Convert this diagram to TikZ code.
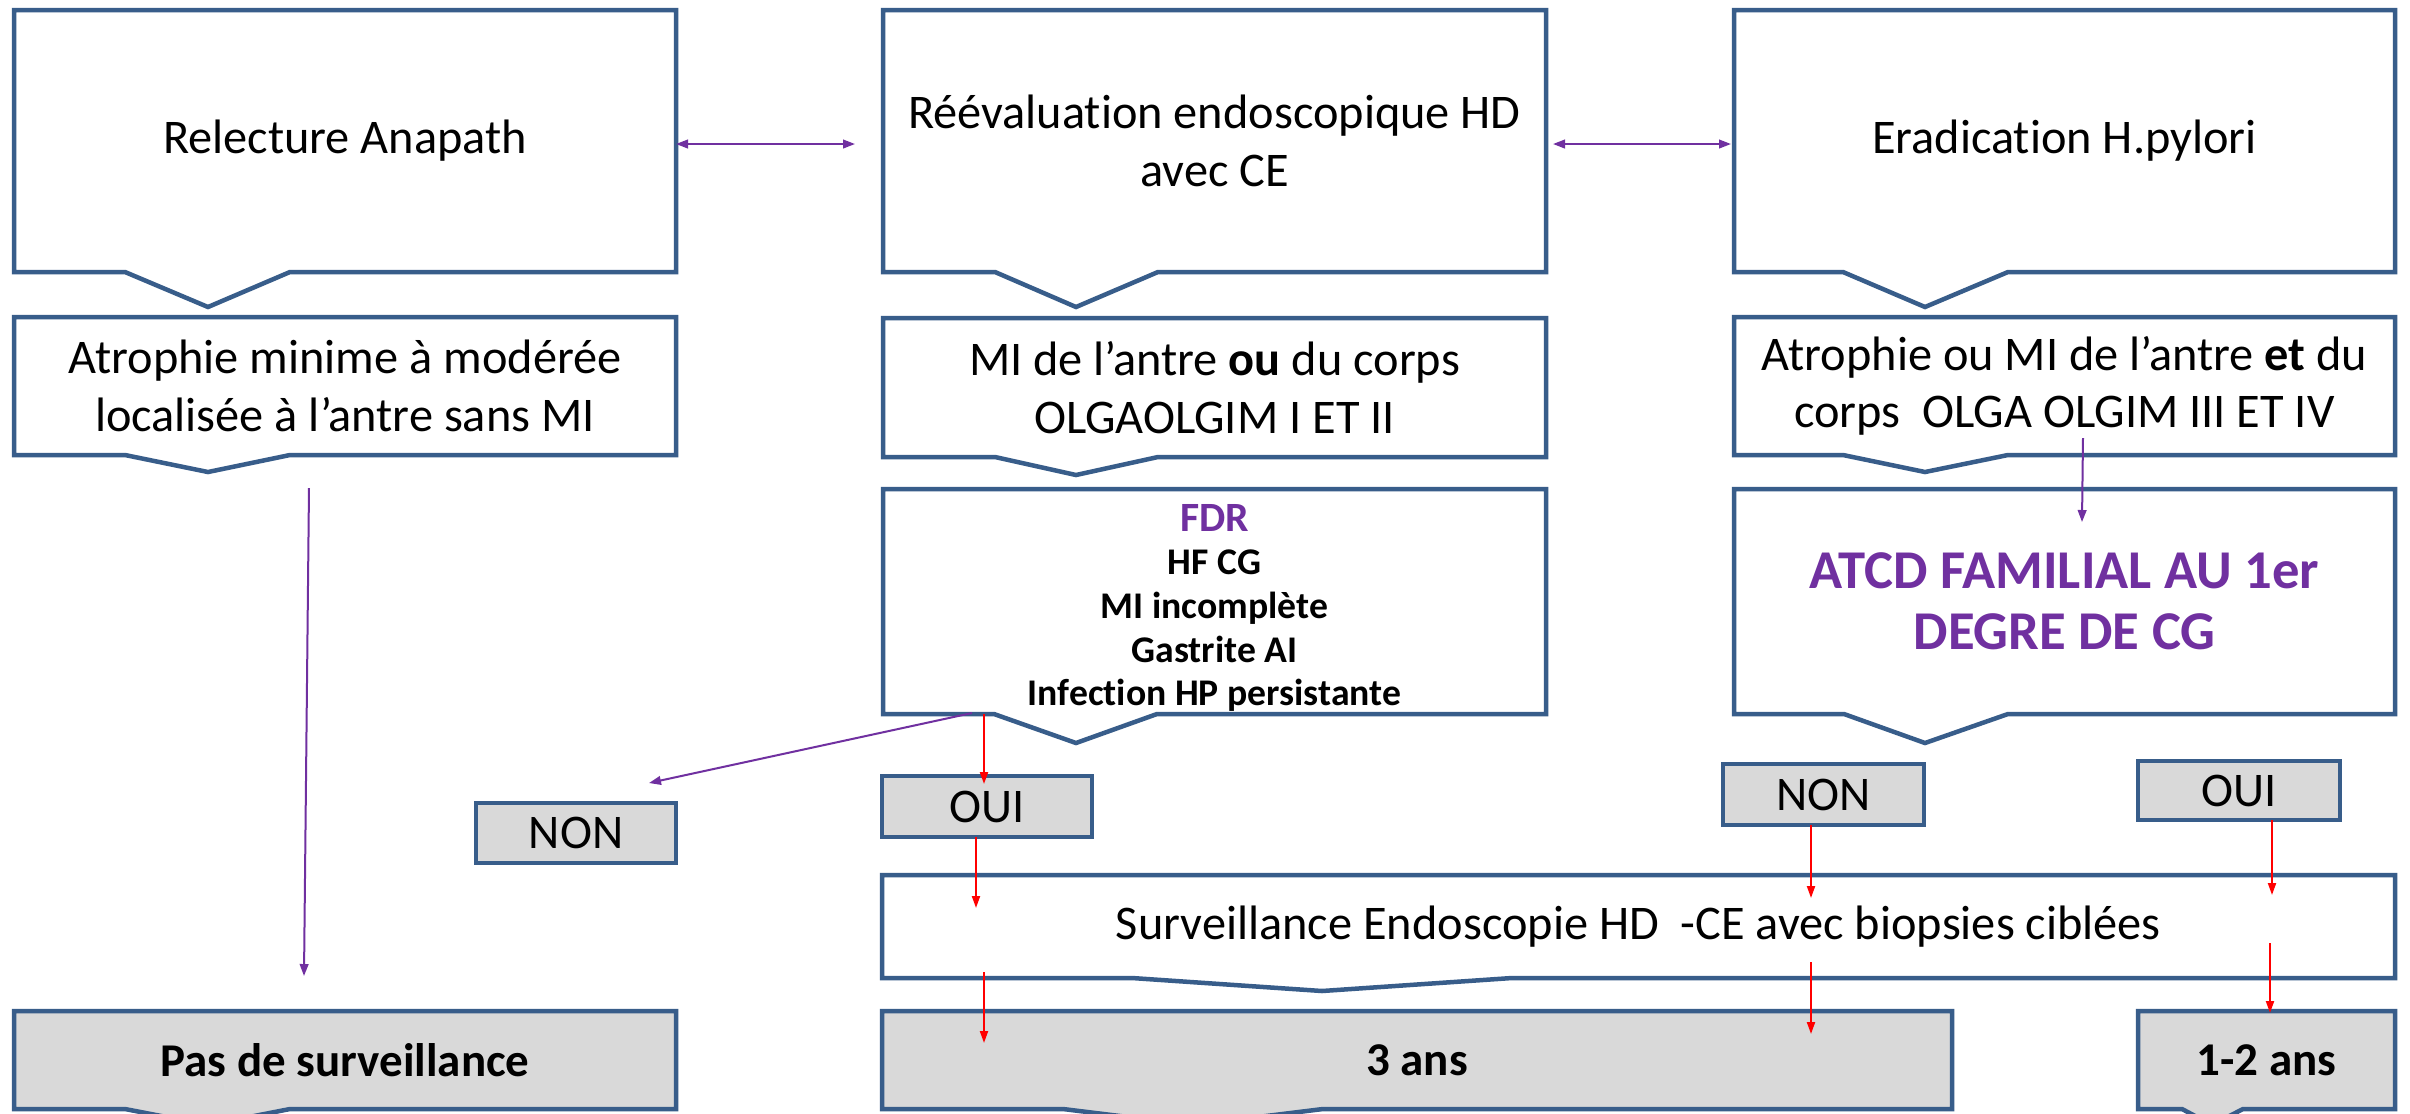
\documentclass[tikz,border=0pt]{standalone}
\usepackage{fontspec}
\setmainfont{Carlito}[Ligatures={TeX,NoCommon}]
\usetikzlibrary{arrows.meta,backgrounds,calc}
\definecolor{boxblue}{HTML}{385D8A}
\definecolor{vio}{HTML}{7030A0}
\definecolor{grayfill}{HTML}{D9D9D9}
\definecolor{redar}{HTML}{FF0000}
\newcommand\chevshape[6]{%
  \path[shapeline,fill=#6] (#1.north west) -- (#1.north east) -- (#1.south east)
    -- (#1.south -| #4,0) -- (#3,#5) -- (#1.south -| #2,0) -- (#1.south west) -- cycle;}
\newcommand\plainshape[2]{%
  \path[shapeline,fill=#2] (#1.north west) rectangle (#1.south east);}
\tikzset{
  boxnode/.style={inner sep=0pt, outer sep=0pt, anchor=north west, align=center,
    font=\fontsize{14.5}{17.3}\selectfont},
  boldbox/.style={boxnode, font=\fontsize{14.1}{17.1}\selectfont\bfseries},
  wh/.style 2 args={minimum width=#1*0.3pt, minimum height=#2*0.3pt},
  shapeline/.style={draw=boxblue, line width=1.35pt, line join=miter},
  vtip/.tip={Triangle[length=3.6pt,width=2.6pt]},
  rtip/.tip={Triangle[length=3.6pt,width=2.4pt]},
  varrow/.style={draw=vio, line width=0.6pt, -vtip, vio},
  vboth/.style={draw=vio, line width=0.6pt, vtip-vtip, vio},
  rarrow/.style={draw=redar, line width=0.6pt, -rtip, redar},
}
\begin{document}
\begin{tikzpicture}[x=0.3pt,y=-0.3pt]
\useasboundingbox (0,0) rectangle (2410,1113);
% nodes
\node[boxnode, wh={662}{262}] (A) at (14,10) {Relecture Anapath};
\node[boxnode, wh={662}{138}] (B) at (14,317) {Atrophie minime à modérée\\localisée à l’antre sans MI};
\node[boxnode, wh={663}{262}] (C) at (883,10) {Réévaluation endoscopique HD\\avec CE};
\node[boxnode, wh={663}{139}] (D) at (883,318) {MI de l’antre \textbf{ou} du corps\\OLGAOLGIM I ET II};
\node[boxnode, wh={661}{262}] (E) at (1734,10) {Eradication H.pylori};
\node[boxnode, wh={661}{138}] (F) at (1734,317) {Atrophie ou MI de l’antre \textbf{et} du\\corps\ \ OLGA OLGIM III ET IV};
\node[boxnode, wh={663}{225}, font=\fontsize{11.3}{13.1}\selectfont\bfseries] (G) at (883,489)
  {\rule{0pt}{12pt}{\fontsize{12.5}{13.1}\selectfont\color{vio}FDR}\\HF CG\\MI incomplète\\Gastrite AI\\Infection HP persistante};
\node[boxnode, wh={661}{225}, font=\fontsize{16.4}{18.4}\selectfont\bfseries, text=vio] (H) at (1734,489)
  {ATCD FAMILIAL AU 1er\\DEGRE DE CG};
\node[boxnode, wh={200}{60}] (non1) at (476,803) {NON};
\node[boxnode, wh={210}{61}] (oui1) at (882,776) {OUI};
\node[boxnode, wh={201}{61}] (non2) at (1723,764) {NON};
\node[boxnode, wh={202}{59}] (oui2) at (2138,761) {OUI};
\node[boxnode, wh={1513}{103}] (S) at (882,875) {Surveillance Endoscopie HD\ \ -CE avec biopsies ciblées};
\node[boldbox, wh={662}{98}] (P) at (14,1011) {Pas de surveillance};
\node[boldbox, wh={1070}{98}] (T) at (882,1011) {3 ans};
\node[boldbox, wh={257}{98}] (U) at (2138,1011) {1-2 ans};
% shapes
\begin{scope}[on background layer]
\fill[white] (0,0) rectangle (2410,1113);
\chevshape{A}{125}{208}{290}{307}{white}
\chevshape{B}{125}{208}{290}{472}{white}
\chevshape{C}{995}{1076}{1158}{307}{white}
\chevshape{D}{995}{1076}{1158}{475}{white}
\chevshape{E}{1843}{1925}{2008}{307}{white}
\chevshape{F}{1843}{1925}{2008}{472}{white}
\chevshape{G}{994}{1076}{1157}{743}{white}
\chevshape{H}{1844}{1925}{2008}{743}{white}
\chevshape{S}{1132}{1322}{1512}{991}{white}
\chevshape{P}{125}{208}{290}{1125}{grayfill}
\chevshape{T}{1063}{1193}{1323}{1125}{grayfill}
\chevshape{U}{2182}{2212}{2243}{1125}{grayfill}
\plainshape{non1}{grayfill}
\plainshape{oui1}{grayfill}
\plainshape{non2}{grayfill}
\plainshape{oui2}{grayfill}
\end{scope}
% connector ends
\coordinate (ca2) at (855,144);
\coordinate (ce1) at (1553,144);
\coordinate (ce2) at (1731,144);
\coordinate (cb1) at (309,488);
\coordinate (cb2) at (304,976);
\coordinate (cg1) at (972,713);
\coordinate (cg2) at (649,783);
\coordinate (cf1) at (2083,438);
\coordinate (cf2) at (2082,522);
\coordinate (r1b) at (984,784);
\coordinate (r2b) at (976,908);
\coordinate (r3a) at (984,972);
\coordinate (r3b) at (984,1043);
\coordinate (r4b) at (1811,898);
\coordinate (r5a) at (1811,962);
\coordinate (r5b) at (1811,1034);
\coordinate (r6b) at (2272,895);
\coordinate (r7a) at (2270,943);
\coordinate (r7b) at (2270,1013);
% connectors
\draw[vboth] (A.east |- ca2) -- (ca2);
\draw[vboth] (ce1) -- (ce2);
\draw[varrow] (cb1) -- (cb2);
\draw[varrow] (cg1) -- (cg2);
\draw[varrow] (cf1) -- (cf2);
\draw[rarrow] (G.south -| r1b) -- (r1b);
\draw[rarrow] (oui1.south -| r2b) -- (r2b);
\draw[rarrow] (r3a) -- (r3b);
\draw[rarrow] (non2.south -| r4b) -- (r4b);
\draw[rarrow] (r5a) -- (r5b);
\draw[rarrow] (oui2.south -| r6b) -- (r6b);
\draw[rarrow] (r7a) -- (r7b);
\end{tikzpicture}
\end{document}
